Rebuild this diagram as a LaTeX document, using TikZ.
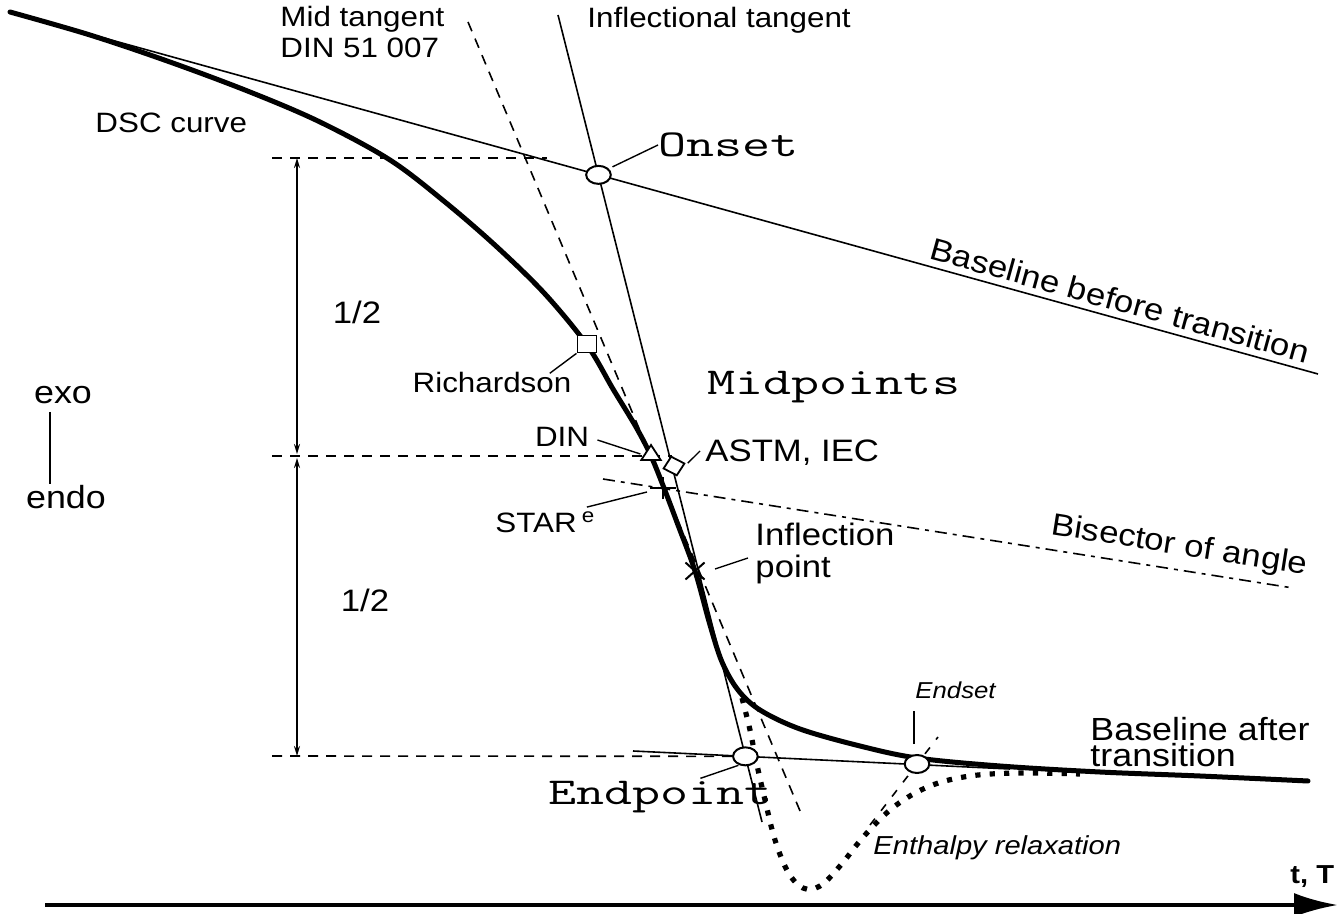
\documentclass[tikz,border=0pt]{standalone}
\usepackage{fontspec}
\setmainfont{Liberation Sans}
\setsansfont{Liberation Sans}
\usepackage{tikz}
\usetikzlibrary{arrows.meta,positioning,calc,shapes.geometric,shapes.misc}

\begin{document}
\begin{tikzpicture}[x=0.5pt, y=-0.5pt,
  every node/.style={font=\fontsize{14}{15.5}\selectfont, inner sep=0pt, xscale=1.12},
  dsc/.style={line width=2.5pt, line join=round, line cap=round},
  thinln/.style={line width=0.8pt},
  dashln/.style={line width=0.8pt, dash pattern=on 5pt off 4pt},
  leader/.style={line width=0.7pt},
  biglbl/.style={font=\fontsize{15.5}{16}\selectfont},
  ttlbl/.style={font=\fontsize{19}{21}\selectfont\ttfamily, xscale=1.28},
  itlbl/.style={font=\fontsize{11.5}{13}\selectfont\itshape},
  ring/.style={ellipse, draw, line width=1pt, fill=white, minimum width=11pt, minimum height=9pt, xscale=1},
  ptmark/.style={draw, line width=0.9pt, fill=white, xscale=1}]
\useasboundingbox (0,0) rectangle (1339,914);

\coordinate (bl1) at (10,12);
\coordinate (bl2) at (1318,374);
\coordinate (it1) at (558,15);
\coordinate (it2) at (762,822);
\coordinate (mt1) at (468,22);
\coordinate (mt2) at (803,818);
\coordinate (ba1) at (633,751);
\coordinate (ba2) at (1010,769);
\coordinate (bs1) at (603,479);
\coordinate (bs2) at (1293,588);
\coordinate (es1) at (870,825);
\coordinate (es2) at (938,737);
\coordinate (onset) at (intersection of bl1--bl2 and it1--it2);
\coordinate (endpt) at (intersection of ba1--ba2 and it1--it2);
\coordinate (endset) at (917,764);

% tangents and baselines
\draw[thinln] (bl1) -- (bl2)
  node[pos=0.845, sloped, above=3pt, biglbl] {Baseline before transition};
\draw[thinln] (it1) -- (it2);
\draw[dashln] (mt1) -- (mt2);
\draw[thinln] (ba1) -- (ba2);
\draw[line width=0.8pt, dash pattern=on 6pt off 3pt on 2pt off 3pt] (bs1) -- (bs2)
  node[pos=0.83, sloped, above=4pt, biglbl] {Bisector of angle};
\draw[dashln, dash pattern=on 4pt off 5pt] (es1) -- (es2);

% half-height levels
\coordinate (h1) at (272,158);
\coordinate (h2) at (272,456);
\coordinate (h3) at (272,756);
\draw[dashln] (h1) -- (547,158);
\draw[dashln] (h2) -- (672,456);
\draw[dashln] (h3) -- (endpt);
\draw[thinln, {Stealth[length=5pt,width=3pt]}-{Stealth[length=5pt,width=3pt]}] ($(h1)+(25,0)$) -- ($(h2)+(25,-2)$);
\draw[thinln, {Stealth[length=5pt,width=3pt]}-{Stealth[length=5pt,width=3pt]}] ($(h2)+(25,2)$) -- ($(h3)+(25,0)$);
\node[biglbl] (half1) at (357,312) {1/2};
\node[biglbl] (half2) at (365,600) {1/2};

% enthalpy relaxation
\draw[line width=2.6pt, dash pattern=on 2.6pt off 4.6pt]
  plot[smooth, tension=0.6] coordinates {(742,698) (750,730) (757,765) (765,800) (775,840) (788,872) (803,888) (820,886) (840,866) (865,835) (895,806) (930,786) (970,776) (1020,773) (1080,774)};

% DSC curve
\draw[dsc] plot[smooth, tension=0.55] coordinates {(10,12) (90,35) (170,62) (250,92) (320,122) (390,160) (445,202) (497,247) (545,294) (587,345) (613,389) (636,427) (651,456) (664,488) (678,525) (695,571) (710,625) (722,662) (738,690) (760,710) (800,729) (860,746) (917,758) (1000,766) (1100,772) (1200,776) (1308,781)};

% markers
\node[ring] (onsetmk) at (onset) {};
\node[ring] (endptmk) at (endpt) {};
\node[ring] (endsetmk) at (endset) {};
\node[ptmark, rectangle, minimum size=8.5pt] (rich) at (587,344) {};
\node[ptmark, regular polygon, regular polygon sides=3, minimum size=10pt] (din) at (651,455) {};
\node[ptmark, diamond, minimum size=10pt, rotate=15] (astm) at (674,466) {};
\node[draw, cross out, line width=1pt, minimum size=7pt, rotate=45, xscale=1] (star) at (663,488) {};
\node[draw, cross out, line width=1pt, minimum size=7.5pt, xscale=1] (infl) at (695,571) {};

% labels
\node[anchor=west, align=left] (midtan) at (280,32) {Mid tangent\\DIN 51 007};
\node[anchor=west] (inftan) at (587,20) {Inflectional tangent};
\node[anchor=west] (dsclbl) at (95,123) {DSC curve};
\node[ttlbl, anchor=west] (onsetlbl) at (658,145) {Onset};
\node (richlbl) at (492,382) {Richardson};
\node[ttlbl, anchor=west] (midlbl) at (707,387) {Midpoints};
\node (dinlbl) at (562,437) {DIN};
\node[biglbl, anchor=west] (astmlbl) at (705,453) {ASTM, IEC};
\node[anchor=west] (starlbl) at (495,522) {STAR\,\raisebox{5pt}{\fontsize{10}{11}\selectfont e}};
\node[biglbl, anchor=west, align=left] (infllbl) at (755,553) {Inflection\\point};
\node[itlbl, anchor=west] (endsetlbl) at (915,690) {Endset};
\node[anchor=west, align=left, font=\fontsize{16}{13}\selectfont] (balbl) at (1090,742) {Baseline after\\transition};
\node[ttlbl, anchor=west] (endptlbl) at (548,797) {Endpoint};
\node[itlbl, anchor=west, font=\fontsize{13}{14}\selectfont\itshape] (enthlbl) at (873,848) {Enthalpy relaxation};
\node[anchor=west, font=\fontsize{13}{14}\selectfont\bfseries] (tlbl) at (1290,877) {t, T};
\node[font=\fontsize{16}{17}\selectfont] (exo) at (63,395) {exo};
\node[font=\fontsize{16}{17}\selectfont] (endo) at (66,497) {endo};
\draw[thinln] (50,412) coordinate (ex) -- (50,484);

% leaders
\draw[leader] (onsetmk) ++(14,-8) -- (onsetlbl.west);
\draw[leader] (rich.south west) -- ($(richlbl.north east)+(-22,2)$);
\draw[leader] (dinlbl.east) ++(8,3) -- ($(din.west)+(-3,-1)$);
\draw[leader] (astm.east) ++(2,0) -- ($(astmlbl.west)+(-5,-2)$);
\draw[leader] ($(starlbl.north east)+(-8,-4)$) -- ($(star)+(-16,4)$);
\draw[leader] ($(infl)+(20,-2)$) -- ($(infllbl.west)+(-7,5)$);
\draw[leader] ($(endptmk)+(-7,9)$) -- ++(-38,13);
\draw[leader] ($(endsetmk)+(-3,-20)$) -- ++(0,-33);

% time axis
\coordinate (ax1) at (45,905);
\coordinate (ax2) at (1338,905);
\draw[line width=2pt, -{Latex[length=22pt,width=12pt]}] (ax1) -- (ax2);
\end{tikzpicture}
\end{document}
